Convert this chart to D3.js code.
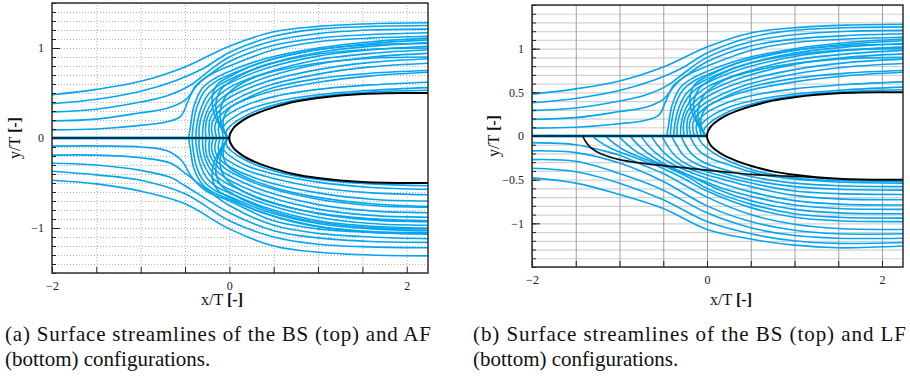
<!DOCTYPE html>
<html>
<head>
<meta charset="utf-8">
<script src="https://cdn.jsdelivr.net/npm/d3@7"></script>
<style>
  body { margin: 0; background: #fff; }
  svg { display: block; }
</style>
</head>
<body>
<svg id="chart" width="910" height="376"></svg>
<script>
// ---- axis / tick values ----
const xDomain = [-2, 2.24];
const yDomain = [-1.5, 1.5];
const xLabelTicks = [-2, 0, 2];
const yLabelTicksA = [-1, 0, 1];
const yLabelTicksB = [-1, -0.5, 0, 0.5, 1];

// ---- body outline (upper half, mirrored for lower half) ----
const bodyX    = [0, 0.005, 0.02, 0.05, 0.1, 0.2, 0.35, 0.5, 0.75, 1, 1.25, 1.5, 1.75, 2, 2.3];
const bodyHalf = [0, 0.035, 0.07, 0.115, 0.16, 0.225, 0.29, 0.34, 0.405, 0.445, 0.473, 0.49, 0.498, 0.5, 0.5];

// ---- BS configuration, upper half (same in both panels) ----
const bsTop = [
  [[-2,0.48],[-1.5,0.54],[-1,0.63],[-0.5,0.79],[0,1.02],[0.5,1.18],[1,1.24],[1.6,1.27],[2.24,1.28]],
  [[-2,0.38],[-1.5,0.43],[-1,0.52],[-0.6,0.64],[-0.3,0.77],[0,0.95],[0.5,1.13],[1,1.21],[1.6,1.24],[2.24,1.25]],
  [[-2,0.29],[-1.5,0.32],[-1,0.4],[-0.7,0.47],[-0.45,0.58],[-0.25,0.73],[0,0.9],[0.5,1.08],[1,1.16],[1.6,1.2],[2.24,1.21]],
  [[-2,0.19],[-1.5,0.21],[-1,0.28],[-0.7,0.33],[-0.5,0.42],[-0.35,0.6],[-0.2,0.72],[0,0.85],[0.5,1.03],[1,1.11],[1.6,1.15],[2.24,1.17]],
  [[-2,0.09],[-1.5,0.1],[-1,0.14],[-0.7,0.18],[-0.55,0.24],[-0.47,0.4],[-0.38,0.58],[-0.22,0.7],[0,0.8],[0.5,0.98],[1,1.07],[1.6,1.11],[2.24,1.13]],
  [[-0.46,0],[-0.44,0.12],[-0.4,0.35],[-0.3,0.56],[-0.15,0.67],[0,0.74],[0.4,0.88],[1,1.0],[1.6,1.07],[2.24,1.11]],
  [[-0.42,0],[-0.41,0.12],[-0.37,0.33],[-0.28,0.52],[-0.15,0.63],[0,0.7],[0.4,0.85],[1,0.98],[1.6,1.05],[2.24,1.09]],
  [[-0.38,0],[-0.37,0.12],[-0.33,0.3],[-0.25,0.47],[-0.13,0.58],[0,0.65],[0.4,0.81],[1,0.95],[1.6,1.02],[2.24,1.06]],
  [[-0.34,0],[-0.34,0.12],[-0.3,0.28],[-0.22,0.44],[-0.11,0.55],[0,0.61],[0.4,0.77],[1,0.91],[1.6,0.98],[2.24,1.02]],
  [[-0.3,0],[-0.3,0.1],[-0.27,0.25],[-0.2,0.39],[-0.1,0.49],[0,0.56],[0.4,0.72],[1,0.87],[1.6,0.94],[2.24,0.98]],
  [[-0.26,0],[-0.27,0.1],[-0.25,0.22],[-0.18,0.35],[-0.09,0.44],[0,0.5],[0.4,0.67],[1,0.82],[1.6,0.9],[2.24,0.94]],
  [[-0.22,0],[-0.23,0.08],[-0.22,0.2],[-0.16,0.31],[-0.08,0.39],[0,0.45],[0.4,0.62],[1,0.76],[1.6,0.84],[2.24,0.88]],
  [[-0.18,0],[-0.2,0.08],[-0.19,0.18],[-0.14,0.27],[-0.07,0.34],[0,0.39],[0.4,0.57],[1,0.71],[1.6,0.79],[2.24,0.83]],
  [[-0.14,0],[-0.16,0.07],[-0.16,0.15],[-0.12,0.23],[-0.06,0.29],[0,0.34],[0.4,0.5],[1,0.62],[1.6,0.69],[2.24,0.73]],
  [[-0.1,0],[-0.12,0.06],[-0.12,0.13],[-0.08,0.2],[0,0.27],[0.2,0.37],[0.5,0.46],[1,0.54],[1.6,0.59],[2.24,0.62]],
  [[-0.06,0],[-0.08,0.06],[-0.07,0.12],[-0.03,0.17],[0.05,0.23],[0.2,0.31],[0.5,0.4],[1,0.48],[1.6,0.53],[2.24,0.56]],
  [[-0.03,0],[-0.04,0.05],[-0.02,0.1],[0.03,0.15],[0.1,0.2],[0.3,0.3],[0.6,0.39],[1,0.46],[1.6,0.51],[2.24,0.53]],
  // lines leaving the nose and bulging upstream
  [[-0.01,0],[-0.06,0.08],[-0.1,0.2],[-0.1,0.32],[-0.05,0.45],[0.05,0.55],[0.3,0.68],[0.8,0.8],[1.5,0.88],[2.24,0.9]],
  [[-0.01,0],[-0.08,0.1],[-0.14,0.25],[-0.15,0.4],[-0.1,0.53],[0,0.62],[0.3,0.77],[0.8,0.9],[1.5,0.98],[2.24,1.0]],
  [[-0.01,0],[-0.05,0.06],[-0.07,0.15],[-0.06,0.24],[0,0.33],[0.15,0.42],[0.5,0.56],[1,0.66],[1.6,0.72],[2.24,0.75]],
  [[-0.01,0],[-0.1,0.12],[-0.18,0.3],[-0.19,0.47],[-0.13,0.6],[0,0.68],[0.3,0.82],[0.8,0.95],[1.5,1.03],[2.24,1.05]]
];

// ---- AF configuration, lower half of panel (a) ----
const afBottom = [
  [[-2,-0.47],[-1.5,-0.51],[-1,-0.59],[-0.5,-0.73],[0,-1.01],[0.5,-1.2],[1,-1.27],[1.6,-1.3],[2.24,-1.31]],
  [[-2,-0.37],[-1.5,-0.41],[-1,-0.47],[-0.5,-0.62],[0,-0.92],[0.5,-1.1],[1,-1.18],[1.6,-1.21],[2.24,-1.22]],
  [[-2,-0.28],[-1.5,-0.3],[-1,-0.36],[-0.66,-0.44],[-0.5,-0.53],[0,-0.83],[0.5,-1.03],[1,-1.11],[1.6,-1.15],[2.24,-1.16]],
  [[-2,-0.19],[-1.5,-0.19],[-1,-0.22],[-0.66,-0.28],[-0.5,-0.39],[-0.26,-0.57],[0,-0.75],[0.5,-0.97],[1,-1.06],[1.6,-1.1],[2.24,-1.12]],
  [[-2,-0.09],[-1,-0.1],[-0.71,-0.14],[-0.54,-0.25],[-0.42,-0.44],[-0.26,-0.59],[0,-0.7],[0.5,-0.92],[1,-1.01],[1.6,-1.05],[2.24,-1.07]],
  [[-0.46,0],[-0.44,-0.12],[-0.4,-0.34],[-0.3,-0.52],[-0.15,-0.62],[0,-0.68],[0.4,-0.84],[1,-0.98],[1.6,-1.04],[2.24,-1.05]],
  [[-0.42,0],[-0.41,-0.12],[-0.37,-0.32],[-0.28,-0.49],[-0.15,-0.59],[0,-0.65],[0.4,-0.81],[1,-0.95],[1.6,-1.01],[2.24,-1.03]],
  [[-0.38,0],[-0.37,-0.11],[-0.33,-0.29],[-0.25,-0.45],[-0.13,-0.55],[0,-0.61],[0.4,-0.77],[1,-0.92],[1.6,-0.98],[2.24,-1.0]],
  [[-0.34,0],[-0.34,-0.11],[-0.3,-0.27],[-0.22,-0.41],[-0.11,-0.51],[0,-0.57],[0.4,-0.73],[1,-0.88],[1.6,-0.95],[2.24,-0.97]],
  [[-0.3,0],[-0.3,-0.1],[-0.27,-0.24],[-0.2,-0.37],[-0.1,-0.46],[0,-0.52],[0.4,-0.69],[1,-0.84],[1.6,-0.91],[2.24,-0.93]],
  [[-0.26,0],[-0.27,-0.09],[-0.25,-0.21],[-0.18,-0.33],[-0.09,-0.41],[0,-0.47],[0.4,-0.64],[1,-0.79],[1.6,-0.86],[2.24,-0.88]],
  [[-0.22,0],[-0.23,-0.08],[-0.22,-0.19],[-0.16,-0.29],[-0.08,-0.37],[0,-0.42],[0.4,-0.59],[1,-0.74],[1.6,-0.81],[2.24,-0.83]],
  [[-0.18,0],[-0.2,-0.08],[-0.19,-0.17],[-0.14,-0.26],[-0.07,-0.32],[0,-0.37],[0.4,-0.54],[1,-0.68],[1.6,-0.75],[2.24,-0.77]],
  [[-0.14,0],[-0.16,-0.07],[-0.16,-0.15],[-0.12,-0.22],[-0.06,-0.28],[0,-0.32],[0.4,-0.48],[1,-0.61],[1.6,-0.68],[2.24,-0.7]],
  [[-0.1,0],[-0.12,-0.06],[-0.12,-0.13],[-0.08,-0.2],[0,-0.26],[0.2,-0.36],[0.5,-0.45],[1,-0.55],[1.6,-0.61],[2.24,-0.63]],
  [[-0.06,0],[-0.08,-0.06],[-0.07,-0.12],[-0.03,-0.17],[0.05,-0.23],[0.2,-0.31],[0.5,-0.4],[1,-0.49],[1.6,-0.55],[2.24,-0.57]],
  [[-0.03,0],[-0.04,-0.05],[-0.02,-0.1],[0.03,-0.15],[0.1,-0.2],[0.3,-0.3],[0.6,-0.39],[1,-0.46],[1.6,-0.51],[2.24,-0.53]],
  [[-0.01,0],[-0.06,-0.08],[-0.1,-0.2],[-0.1,-0.32],[-0.05,-0.44],[0.05,-0.53],[0.3,-0.66],[0.8,-0.8],[1.5,-0.89],[2.24,-0.92]],
  [[-0.01,0],[-0.08,-0.1],[-0.14,-0.25],[-0.15,-0.4],[-0.1,-0.52],[0,-0.6],[0.3,-0.75],[0.8,-0.9],[1.5,-0.99],[2.24,-1.01]],
  [[-0.01,0],[-0.05,-0.06],[-0.07,-0.15],[-0.06,-0.24],[0,-0.33],[0.15,-0.42],[0.5,-0.55],[1,-0.66],[1.6,-0.73],[2.24,-0.76]],
  [[-0.01,0],[-0.1,-0.12],[-0.18,-0.3],[-0.19,-0.46],[-0.13,-0.58],[0,-0.66],[0.3,-0.8],[0.8,-0.95],[1.5,-1.04],[2.24,-1.06]]
];

// ---- LF configuration, lower half of panel (b) ----
const lfBottom = [
  [[-2,-0.48],[-1.5,-0.54],[-1,-0.67],[-0.5,-0.83],[0,-1.07],[0.5,-1.18],[1,-1.25],[1.5,-1.28],[2.24,-1.26]],
  [[-2,-0.37],[-1.5,-0.41],[-1,-0.54],[-0.5,-0.73],[0,-0.98],[0.5,-1.12],[1,-1.2],[1.5,-1.23],[2.24,-1.22]],
  [[-2,-0.27],[-1.5,-0.29],[-1,-0.43],[-0.5,-0.62],[0,-0.88],[0.5,-1.05],[1,-1.14],[1.5,-1.17],[2.24,-1.17]],
  [[-2,-0.17],[-1.5,-0.19],[-1,-0.31],[-0.5,-0.52],[0,-0.8],[0.5,-0.98],[1,-1.08],[1.5,-1.12],[2.24,-1.12]],
  [[-2,-0.076],[-1.5,-0.1],[-1.22,-0.16],[-1,-0.22],[-0.69,-0.35],[-0.5,-0.43],[0,-0.7],[0.5,-0.9],[1,-1.01],[1.5,-1.06],[2.24,-1.07]],
  [[-1.3,-0.01],[-1.22,-0.07],[-1.1,-0.14],[-0.9,-0.22],[-0.6,-0.33],[-0.3,-0.47],[0,-0.63],[0.5,-0.82],[1,-0.93],[1.5,-0.97],[2.24,-0.98]],
  [[-1.15,-0.01],[-1.07,-0.08],[-0.95,-0.16],[-0.75,-0.25],[-0.45,-0.36],[-0.2,-0.48],[0,-0.6],[0.5,-0.78],[1,-0.89],[1.5,-0.93],[2.24,-0.94]],
  [[-1,-0.01],[-0.93,-0.08],[-0.82,-0.17],[-0.62,-0.28],[-0.35,-0.39],[-0.1,-0.5],[0.1,-0.6],[0.5,-0.74],[1,-0.84],[1.5,-0.88],[2.24,-0.89]],
  [[-0.87,-0.01],[-0.8,-0.09],[-0.7,-0.18],[-0.52,-0.3],[-0.23,-0.44],[0,-0.53],[0.15,-0.59],[0.5,-0.69],[1,-0.79],[1.5,-0.83],[2.24,-0.84]],
  [[-0.75,-0.01],[-0.68,-0.1],[-0.58,-0.2],[-0.42,-0.31],[-0.15,-0.43],[0.1,-0.52],[0.5,-0.64],[1,-0.74],[1.5,-0.78],[2.24,-0.79]],
  [[-0.63,-0.01],[-0.57,-0.1],[-0.47,-0.21],[-0.32,-0.32],[-0.08,-0.42],[0.2,-0.5],[0.5,-0.58],[1,-0.68],[1.5,-0.72],[2.24,-0.73]],
  [[-0.51,-0.01],[-0.46,-0.1],[-0.37,-0.22],[-0.22,-0.33],[0,-0.41],[0.3,-0.49],[0.6,-0.56],[1,-0.63],[1.5,-0.66],[2.24,-0.67]],
  [[-0.4,-0.01],[-0.35,-0.1],[-0.27,-0.22],[-0.12,-0.32],[0.1,-0.4],[0.4,-0.48],[0.7,-0.54],[1,-0.58],[1.5,-0.61],[2.24,-0.62]],
  [[-0.29,-0.01],[-0.25,-0.1],[-0.17,-0.21],[-0.04,-0.3],[0.15,-0.37],[0.4,-0.44],[0.7,-0.5],[1,-0.54],[1.5,-0.57],[2.24,-0.58]],
  [[-0.19,-0.01],[-0.15,-0.09],[-0.08,-0.18],[0.05,-0.26],[0.25,-0.33],[0.5,-0.41],[0.8,-0.47],[1.2,-0.51],[1.6,-0.53],[2.24,-0.54]],
  [[-0.1,-0.01],[-0.07,-0.07],[0,-0.14],[0.1,-0.21],[0.3,-0.31],[0.6,-0.41],[1,-0.48],[1.5,-0.51],[2.24,-0.52]]
];

// black edge line of the LF configuration
const lfEdge = [[-1.42,0],[-1.39,-0.06],[-1.32,-0.14],[-1.2,-0.21],[-1,-0.27],[-0.75,-0.31],[-0.5,-0.34],[-0.2,-0.37],[0.2,-0.41],[0.5,-0.44],[0.8,-0.455],[1.1,-0.465],[1.4,-0.485]];

// symmetry line upstream of the body
const symLine = [[-2,0],[0,0]];

const blue = "#05a5ef";
const serif = "Liberation Serif";
const svg = d3.select("#chart").attr("font-family", serif);

const panels = [
  { id: "a", x0: 52, x1: 428, y0: 3, y1: 273, lower: afBottom, edge: null,
    yLabels: yLabelTicksA, gridStyle: "dot", xTitleX: 222, xTitleY: 305, yTitleX: 20 },
  { id: "b", x0: 532, x1: 903, y0: 5, y1: 267, lower: lfBottom, edge: lfEdge,
    yLabels: yLabelTicksB, gridStyle: "solid", xTitleX: 731, xTitleY: 305, yTitleX: 499 }
];

panels.forEach(p => {
  const x = d3.scaleLinear().domain(xDomain).range([p.x0, p.x1]);
  const y = d3.scaleLinear().domain(yDomain).range([p.y1, p.y0]);
  const w = p.x1 - p.x0, h = p.y1 - p.y0;
  const g = svg.append("g");

  g.append("clipPath").attr("id", "clip-" + p.id)
    .append("rect").attr("x", p.x0).attr("y", p.y0).attr("width", w).attr("height", h);

  // grid
  const hGrid = g.append("g").attr("transform", `translate(${p.x0},0)`)
    .call(d3.axisLeft(y).ticks(30).tickSize(-w).tickFormat(""));
  const vGrid = g.append("g").attr("transform", `translate(0,${p.y1})`)
    .call(d3.axisBottom(x).ticks(8).tickSize(-h).tickFormat(""));
  [hGrid, vGrid].forEach(s => s.select(".domain").remove());
  if (p.gridStyle === "dot") {
    hGrid.selectAll("line").attr("stroke", "#b4b4b4").attr("stroke-dasharray", "1,2");
    vGrid.selectAll("line").attr("stroke", "#b4b4b4").attr("stroke-dasharray", "1,2");
  } else {
    hGrid.selectAll("line").attr("stroke", "#d2d2d2").attr("stroke-width", 1.2);
    vGrid.selectAll("line").attr("stroke", "#a0a0a0").attr("stroke-width", 1);
  }

  const plot = g.append("g").attr("clip-path", `url(#clip-${p.id})`);
  const line = d3.line().x(d => x(d[0])).y(d => y(d[1])).curve(d3.curveCatmullRom.alpha(0.5));
  const straight = d3.line().x(d => x(d[0])).y(d => y(d[1]));

  plot.selectAll("path.upper").data(bsTop).enter().append("path")
    .attr("d", line).attr("fill", "none").attr("stroke", blue).attr("stroke-width", 1.6);
  plot.selectAll("path.lower").data(p.lower).enter().append("path")
    .attr("d", line).attr("fill", "none").attr("stroke", blue).attr("stroke-width", 1.6);

  // symmetry line
  plot.append("path").datum(symLine).attr("d", straight).attr("stroke", blue).attr("stroke-width", 3.2);
  plot.append("path").datum(symLine).attr("d", straight).attr("stroke", "#111").attr("stroke-width", 1.6);

  if (p.edge) {
    plot.append("path").datum(p.edge).attr("d", line)
      .attr("fill", "none").attr("stroke", "#111").attr("stroke-width", 1.7);
  }

  // body
  const outline = bodyX.map((v, i) => [v, bodyHalf[i]]).reverse()
    .concat(bodyX.slice(1).map((v, i) => [v, -bodyHalf[i + 1]]));
  plot.append("path").datum(outline).attr("d", line)
    .attr("fill", "#fff").attr("stroke", "#000").attr("stroke-width", 2);

  // frame
  g.append("rect").attr("x", p.x0).attr("y", p.y0).attr("width", w).attr("height", h)
    .attr("fill", "none").attr("stroke", "#222").attr("stroke-width", 1.4);

  // ticks (inward)
  const tickStyle = s => { s.select(".domain").remove(); s.selectAll("line").attr("stroke", "#222"); };
  const labelStyle = s => s.selectAll("text").attr("font-size", 12).attr("font-family", serif).attr("fill", "#222");
  g.append("g").attr("transform", `translate(${p.x0},0)`)
    .call(d3.axisLeft(y).ticks(30).tickSize(-4).tickFormat("")).call(tickStyle);
  g.append("g").attr("transform", `translate(${p.x0},0)`)
    .call(d3.axisLeft(y).tickValues(p.yLabels).tickSize(-8).tickPadding(8).tickFormat(d3.format("")))
    .call(tickStyle).call(labelStyle);
  g.append("g").attr("transform", `translate(0,${p.y1})`)
    .call(d3.axisBottom(x).ticks(8).tickSize(-6).tickFormat("")).call(tickStyle);
  g.append("g").attr("transform", `translate(0,${p.y1})`)
    .call(d3.axisBottom(x).tickValues(xLabelTicks).tickSize(0).tickPadding(8).tickFormat(d3.format("")))
    .call(tickStyle).call(labelStyle);

  // axis titles
  const xt = g.append("text").attr("x", p.xTitleX).attr("y", p.xTitleY)
    .attr("text-anchor", "middle").attr("font-size", 16).attr("fill", "#111");
  xt.append("tspan").text("x/T  ");
  xt.append("tspan").attr("font-weight", "bold").text("[-]");
  const yt = g.append("text").attr("transform", `translate(${p.yTitleX},${y(0)}) rotate(-90)`)
    .attr("text-anchor", "middle").attr("font-size", 16).attr("fill", "#111");
  yt.append("tspan").text("y/T  ");
  yt.append("tspan").attr("font-weight", "bold").text("[-]");
});

// captions
const captions = [
  { x: 5, w: 426, l1: "(a)  Surface streamlines of the BS (top) and AF", l2: "(bottom) configurations." },
  { x: 473, w: 433, l1: "(b)  Surface streamlines of the BS (top) and LF", l2: "(bottom) configurations." }
];
captions.forEach(c => {
  svg.append("text").attr("x", c.x).attr("y", 341).attr("font-size", 21)
    .attr("textLength", c.w).attr("lengthAdjust", "spacing").attr("fill", "#111").text(c.l1);
  svg.append("text").attr("x", c.x).attr("y", 366).attr("font-size", 21)
    .attr("fill", "#111").text(c.l2);
});
</script>
</body>
</html>
